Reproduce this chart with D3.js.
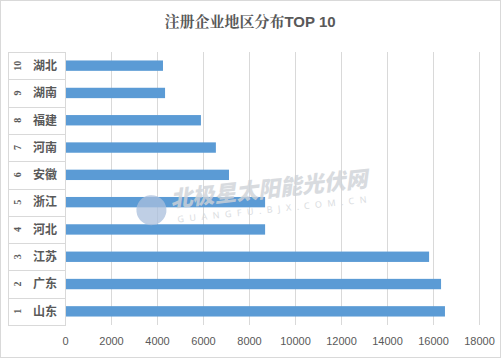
<!DOCTYPE html>
<html><head><meta charset="utf-8">
<script src="https://cdn.jsdelivr.net/npm/d3@7"></script>
<style>body{margin:0;background:#fff}svg{display:block}</style>
</head><body>
<svg id="c" width="501" height="358"></svg>
<script>
const categories = ["湖北","湖南","福建","河南","安徽","浙江","河北","江苏","广东","山东"];
const ranks = ["10","9","8","7","6","5","4","3","2","1"];
const values = [4260,4350,5910,6560,7130,8700,8700,15830,16350,16520];
const ticks = [0,2000,4000,6000,8000,10000,12000,14000,16000,18000];
const title = "注册企业地区分布TOP 10";

(function(){
const svg = d3.select("#c");
const W=501,H=358;
svg.append("rect").attr("x",0.5).attr("y",0.5).attr("width",W-1).attr("height",H-1)
  .attr("fill","#fff").attr("stroke","#d9d9d9");

const pLeft=65,pRight=479,pTop=52,pBottom=325,tableLeft=8;
const x=d3.scaleLinear().domain([0,18000]).range([pLeft,pRight]);
const y=d3.scaleBand().domain(categories).range([pTop,pBottom]).paddingInner(0.62).paddingOuter(0.31);
const yb=d3.scaleBand().domain(categories).range([pTop,pBottom]);

// gridlines
svg.append("g").selectAll("line").data(ticks.slice(1)).join("line")
  .attr("x1",d=>Math.round(x(d))+0.5).attr("x2",d=>Math.round(x(d))+0.5).attr("y1",pTop).attr("y2",pBottom)
  .attr("stroke","#d9d9d9").attr("stroke-width",1);

// table lines on the left
const tg=svg.append("g").attr("stroke","#d9d9d9").attr("stroke-width",1);
const bounds=categories.map(c=>yb(c)).concat([pBottom]);
tg.selectAll("line.h").data(bounds).join("line").attr("class","h")
  .attr("x1",tableLeft).attr("x2",pLeft).attr("y1",d=>Math.round(d)+0.5).attr("y2",d=>Math.round(d)+0.5);
tg.append("line").attr("x1",tableLeft+0.5).attr("x2",tableLeft+0.5).attr("y1",pTop).attr("y2",pBottom);
tg.append("line").attr("x1",pLeft+0.5).attr("x2",pLeft+0.5).attr("y1",pTop).attr("y2",pBottom+1);

// bars
svg.append("g").selectAll("rect").data(values).join("rect")
  .attr("x",x(0)+1).attr("y",(d,i)=>y(categories[i]))
  .attr("width",d=>x(d)-x(0)-1).attr("height",y.bandwidth())
  .attr("fill","#5b9bd5");

// watermark (drawn over the bars, semi-transparent)
const wm=svg.append("g").attr("transform","rotate(-6,172,205)");
wm.append("circle").attr("cx",151).attr("cy",208).attr("r",15).attr("fill","#a9bfdc").attr("opacity",0.75);
wm.append("text").attr("x",171).attr("y",207).attr("font-family","Noto Sans CJK SC").attr("font-weight",900)
  .attr("font-size",22).attr("font-style","italic").attr("fill","#cfd3d8").attr("opacity",0.8).text("北极星太阳能光伏网");
wm.append("text").attr("x",176).attr("y",223).attr("font-family","Noto Sans").attr("font-size",9)
  .attr("letter-spacing",5.5).attr("fill","#d2d5d9").attr("opacity",0.8).text("GUANGFU.BJX.COM.CN");

// category labels
svg.append("g").selectAll("text").data(categories).join("text")
  .attr("x",45).attr("y",c=>yb(c)+yb.bandwidth()/2).attr("dy","0.36em")
  .attr("text-anchor","middle").attr("font-family","Noto Sans CJK SC").attr("font-weight","bold")
  .attr("font-size",12).attr("fill","#595959").text(c=>c);

// rank numbers, rotated
svg.append("g").selectAll("text").data(ranks).join("text")
  .attr("transform",(r,i)=>`translate(17,${yb(categories[i])+yb.bandwidth()/2}) rotate(-90)`)
  .attr("text-anchor","middle").attr("dy","0.35em")
  .attr("font-family","Liberation Serif").attr("font-weight","bold").attr("font-size",10)
  .attr("fill","#595959").text(r=>r);

// x axis labels
const ax=svg.append("g").attr("transform",`translate(0,${pBottom})`)
  .call(d3.axisBottom(x).tickValues(ticks).tickSize(0).tickPadding(12).tickFormat(d3.format("d")));
ax.select(".domain").remove();
ax.selectAll("text").attr("font-family","Liberation Sans").attr("font-size",11).attr("fill","#595959");

// title
const t=svg.append("text").attr("x",250).attr("y",27).attr("text-anchor","middle")
  .attr("font-size",15).attr("font-weight","bold").attr("fill","#595959");
t.append("tspan").attr("font-family","Noto Serif CJK SC, Noto Sans CJK SC").text("注册企业地区分布");
t.append("tspan").attr("font-family","Liberation Sans").text("TOP 10");
})();
</script>
</body></html>
